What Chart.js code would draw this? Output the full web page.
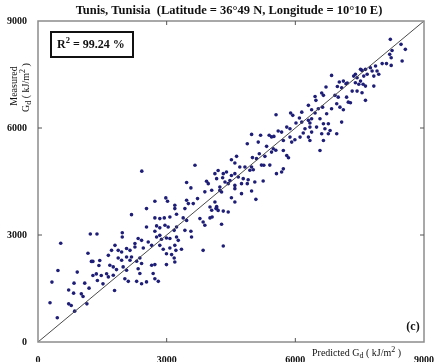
<!DOCTYPE html>
<html>
<head>
    <title>Tunis measured vs predicted Gd</title>
    <script src="https://cdn.jsdelivr.net/npm/chart.js"></script>
    <style>
        body {
            margin: 0;
            background-color: #ffffff;
        }
        canvas {
            display: block;
        }
    </style>
</head>
<body>

    <canvas id="scatterChart" width="434" height="362"></canvas>

    <script>
        // Predicted Gd (kJ/m2), left to right band by band
        var predicted = [
            1220, 1375, 530, 1165, 1440, 1245, 465, 915, 325, 840, 1090, 1190, 715, 830, 1010, 1050, 280, 715, 775, 1140,
            855, 450, 1280, 1420, 1280, 1360, 1475, 1515, 1385, 1785,
            3465, 3930, 3970, 3565, 4050, 3890, 2725, 2980, 3020, 3465, 3505, 3425, 3720, 3190, 3190, 2530, 3620, 4010, 4050, 2180,
            2725, 2840, 2945, 3075, 3230, 3385, 3465, 3775, 4010, 4060, 2530, 2765, 2840, 2960, 3035, 3230, 3175, 3425, 3565, 3890,
            3850, 2725, 1965, 1965, 2335, 2415, 2765, 2840, 2880, 2995, 3075, 3230, 3270, 3580, 2570, 2650, 2260, 2260, 1795, 1715,
            1870, 1950, 2065, 2145, 2455, 2840, 2920, 3075, 3190, 3215, 2995, 3115, 3345, 3850, 1640, 1870, 1950, 2065, 2145, 2180,
            2300, 2375, 2415, 2650, 2725, 2995, 3190, 3175, 1675, 1755, 1830, 1985, 2065, 2335, 2375, 2685, 2725, 1600, 1640, 1755,
            2025, 2105, 2300, 2415, 2530, 2805,
            4980, 5190, 5390, 5445, 5500, 5600, 4880, 5135, 5330, 5485, 5545, 5445, 4630, 5160, 5290, 5000, 5095, 5210, 5265, 5405,
            5560, 4980, 5020, 4940, 4510, 4590, 4705, 4825, 3660, 4200, 4125, 4320, 4395, 4510, 4590, 4670, 4785, 4900, 4880, 5055,
            5250, 4745, 4590, 4435, 4165, 4305, 4360, 4475, 4240, 4240, 4280, 4590, 4745, 4980, 4510, 4590, 5080, 4125, 4165, 4150,
            4165, 4200, 4320, 4435, 4280,
            6845, 7025, 7120, 7180, 6980, 7080, 7210, 6715, 6615, 6655, 6460, 6480, 6925, 7000, 7195, 7235, 6965, 7040, 7120, 6845,
            5550, 5890, 5940, 6150, 6305, 6380, 6460, 6535, 6635, 6730, 6095, 6015, 6150, 6305, 6380, 6340, 6655, 6770, 6575, 7080,
            5800, 5875, 5680, 6225, 6340, 6185, 6380, 6495, 6615, 6690, 6810, 6770, 6965, 5720, 5875, 5990, 6110, 6305, 6340, 6655,
            5915, 6575, 5720, 5800, 5840, 5720, 5680,
            8215, 8465, 8565, 8255, 8200, 8235, 8490, 8025, 8125, 8235, 7870, 7750, 7790, 7905, 7635, 7555, 7520, 7830, 7945, 7400,
            7440, 7360, 7595, 7675, 7400, 7480, 7580, 7635, 7830, 7520, 7325, 7440, 7555, 7635, 7285,
            2420, 4320
        ];

        // Measured Gd (kJ/m2), same order as predicted
        var measured = [
            3030, 3030, 2770, 2490, 2285, 2260, 2005, 1960, 1680, 1650, 1650, 1510, 1460, 1370, 1350, 1275, 1100, 1070, 1025, 1070,
            865, 680, 2260, 2145, 1865, 1910, 1865, 1630, 1725, 1445,
            4470, 4505, 4440, 4320, 4255, 4210, 3945, 4040, 3945, 3975, 3880, 3740, 4020, 3835, 3740, 3740, 3880, 3785, 3695, 3570,
            3480, 3460, 3480, 3505, 3580, 3480, 3410, 3460, 3480, 3505, 3225, 3255, 3200, 3275, 3225, 3225, 3130, 3130, 3105, 3275,
            3365, 3105, 3065, 2945, 2900, 2850, 2945, 2990, 2880, 2915, 2900, 2945, 2850, 2945, 2805, 2710, 2760, 2665, 2710, 2570,
            2570, 2525, 2620, 2570, 2635, 2710, 2600, 2635, 2710, 2570, 2475, 2450, 2600, 2570, 2430, 2355, 2290, 2385, 2290, 2385,
            2265, 2355, 2200, 2150, 2170, 2170, 2245, 2355, 2150, 2105, 2030, 2105, 2010, 2055, 1920, 1920, 1775, 1915, 1825, 1870,
            1775, 1700, 1700, 1635, 1685, 1700,
            5820, 5795, 5795, 5750, 5765, 5915, 5560, 5605, 5485, 5420, 5375, 5325, 5205, 5280, 5205, 5170, 5140, 4960, 4955, 4960,
            4720, 4905, 4830, 4815, 5110, 5020, 4905, 4905, 4955, 4810, 4720, 4720, 4765, 4670, 4720, 4625, 4580, 4550, 4440, 4485,
            4515, 4440, 4390, 4440, 4580, 4605, 4485, 4530, 4345, 4250, 4205, 4300, 4160, 4235, 4045, 3925, 4000, 3925, 3800, 3740,
            3765, 3690, 3670, 3645, 3300,
            7475, 7290, 7315, 7240, 7165, 7130, 7260, 7150, 6980, 6915, 6885, 6775, 6915, 6865, 6865, 6725, 6680, 6585, 6510, 6540,
            6370, 6420, 6355, 6445, 6635, 6510, 6420, 6540, 6585, 6400, 6280, 6140, 6165, 6215, 6260, 6140, 6120, 6120, 6260, 6165,
            6025, 5980, 5885, 5980, 6025, 5860, 5885, 6025, 5840, 5980, 5930, 5840, 5840, 5650, 5745, 5670, 5745, 5745, 5650, 5650,
            5605, 5370, 5370, 5230, 5165, 4855, 4765,
            8485, 8345, 8205, 8175, 8065, 7970, 7880, 7805, 7805, 7755, 7740, 7690, 7600, 7600, 7645, 7615, 7645, 7455, 7505, 7505,
            7410, 7455, 7455, 7505, 7270, 7225, 7225, 7175, 7175, 7315, 7035, 7035, 6990, 6775, 6710,
            4790, 2690
        ];

        // 1:1 reference line and axis ticks
        var lineEnds = [0, 9000];
        var tickValues = [0, 3000, 6000, 9000];

        var titleText = 'Tunis, Tunisia  (Latitude = 36\u00b049 N, Longitude = 10\u00b010 E)';
        var panelText = '(c)';

        var serif = '"Liberation Serif", "DejaVu Serif", serif';

        var points = predicted.map(function(p, i) { return { x: p, y: measured[i] }; });
        var diagonal = lineEnds.map(function(v) { return { x: v, y: v }; });

        // Draws a string made of pieces, some of them sub- or superscript
        function drawPieces(ctx, pieces, x, y, weight) {
            pieces.forEach(function(p) {
                ctx.font = (weight || '') + ' ' + (p.size || 10) + 'px ' + serif;
                ctx.fillText(p.text, x, y + (p.shift || 0));
                x += ctx.measureText(p.text).width;
            });
        }

        // Frame, inward ticks, titles and the boxed R2 label
        var overlayPlugin = {
            id: 'overlayPlugin',
            afterDraw: function(chart) {
                var ctx = chart.ctx;
                var a = chart.chartArea;
                var xs = chart.scales.x;
                var ys = chart.scales.y;
                ctx.save();

                ctx.strokeStyle = '#8c8c8c';
                ctx.lineWidth = 1.5;
                ctx.strokeRect(a.left, a.top, a.right - a.left, a.bottom - a.top);

                // small ticks pointing into the plot on all four sides
                ctx.strokeStyle = '#555';
                ctx.lineWidth = 1;
                ctx.beginPath();
                tickValues.slice(1, 3).forEach(function(v) {
                    var px = xs.getPixelForValue(v);
                    var py = ys.getPixelForValue(v);
                    ctx.moveTo(px, a.bottom); ctx.lineTo(px, a.bottom - 4);
                    ctx.moveTo(px, a.top); ctx.lineTo(px, a.top + 4);
                    ctx.moveTo(a.left, py); ctx.lineTo(a.left + 4, py);
                    ctx.moveTo(a.right, py); ctx.lineTo(a.right - 4, py);
                });
                ctx.stroke();

                ctx.fillStyle = '#111';
                ctx.textBaseline = 'middle';

                // title
                ctx.font = 'bold 12.5px ' + serif;
                ctx.textAlign = 'center';
                ctx.fillText(titleText, 229, 11);

                // R2 box
                ctx.lineWidth = 2;
                ctx.strokeStyle = '#111';
                ctx.strokeRect(51, 32, 82, 25);
                ctx.textAlign = 'left';
                drawPieces(ctx, [
                    { text: 'R', size: 12 },
                    { text: '2', size: 8.5, shift: -4 },
                    { text: ' = 99.24 %', size: 12 }
                ], 57, 45, 'bold');

                // panel letter
                ctx.font = 'bold 12px ' + serif;
                ctx.textAlign = 'center';
                ctx.fillText(panelText, 413, 327);

                // x axis title
                ctx.textAlign = 'left';
                drawPieces(ctx, [
                    { text: 'Predicted G' },
                    { text: 'd', size: 8, shift: 3 },
                    { text: ' ( kJ/m' },
                    { text: '2', size: 8, shift: -3 },
                    { text: ' )' }
                ], 312, 353);

                // y axis title, two rotated lines
                ctx.save();
                ctx.translate(14, 86);
                ctx.rotate(-Math.PI / 2);
                ctx.textAlign = 'center';
                ctx.font = '10px ' + serif;
                ctx.fillText('Measured', 0, 0);
                ctx.restore();

                ctx.save();
                ctx.translate(26, 112);
                ctx.rotate(-Math.PI / 2);
                ctx.textAlign = 'left';
                drawPieces(ctx, [
                    { text: 'G' },
                    { text: 'd', size: 8, shift: 3 },
                    { text: ' ( kJ/m' },
                    { text: '2', size: 8, shift: -3 },
                    { text: ' )' }
                ], 0, 0);
                ctx.restore();

                ctx.restore();
            }
        };

        var tickFont = { family: serif, size: 10, weight: 'bold' };
        var plainLabel = function(v) { return String(v); };
        var fixedTicks = function(s) { s.ticks = tickValues.map(function(v) { return { value: v }; }); };

        var ctx = document.getElementById('scatterChart').getContext('2d');
        var chart = new Chart(ctx, {
            type: 'scatter',
            plugins: [overlayPlugin],
            data: {
                datasets: [
                    {
                        type: 'line',
                        data: diagonal,
                        borderColor: '#4a4a4a',
                        borderWidth: 1,
                        pointRadius: 0,
                        fill: false
                    },
                    {
                        data: points,
                        pointRadius: 1.8,
                        pointBackgroundColor: '#1e1e78',
                        pointBorderWidth: 0
                    }
                ]
            },
            options: {
                responsive: false,
                animation: false,
                layout: { padding: { left: 0, right: 10, top: 21, bottom: 0 } },
                plugins: {
                    legend: { display: false },
                    tooltip: { enabled: false }
                },
                scales: {
                    x: {
                        type: 'linear',
                        min: 0,
                        max: 9000,
                        grid: { display: false },
                        border: { display: false },
                        afterBuildTicks: fixedTicks,
                        ticks: { font: tickFont, color: '#111', padding: 4, maxRotation: 0, autoSkip: false, callback: plainLabel },
                        afterFit: function(s) { s.height = 20; s.paddingRight = 0; s.paddingLeft = 0; }
                    },
                    y: {
                        type: 'linear',
                        min: 0,
                        max: 9000,
                        grid: { display: false },
                        border: { display: false },
                        afterBuildTicks: fixedTicks,
                        ticks: { font: tickFont, color: '#111', padding: 3, callback: plainLabel },
                        afterFit: function(s) { s.width = 38; s.paddingTop = 0; s.paddingBottom = 0; }
                    }
                }
            }
        });
    </script>
</body>
</html>
